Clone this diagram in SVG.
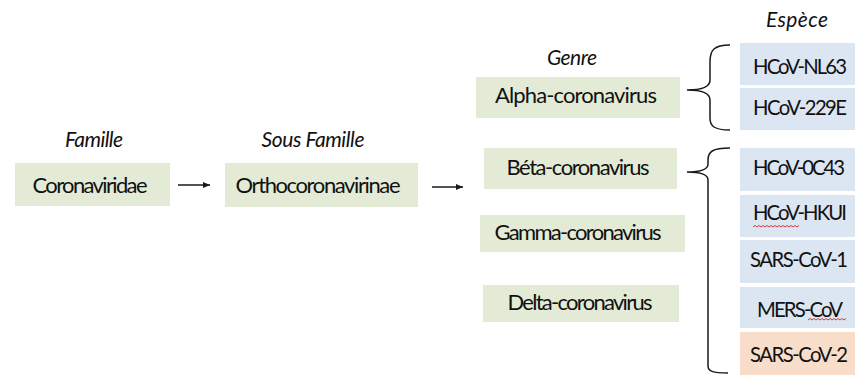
<svg xmlns="http://www.w3.org/2000/svg" width="857" height="376" viewBox="0 0 857 376">
<defs>
<style>
.g{fill:#e3ebd6}
.b{fill:#dce5f2}
.o{fill:#f8ddcb}
.t{font-family:Lato,"Liberation Sans",Arial,sans-serif;font-size:22px;fill:#111111;text-anchor:middle}
.s{font-family:Lato,"Liberation Sans",Arial,sans-serif;font-size:20.3px;fill:#111111;text-anchor:middle}
.h{font-family:Lato,"Liberation Sans",Arial,sans-serif;font-size:21px;font-style:italic;fill:#111111;text-anchor:middle}
.c{fill:none;stroke:#1a1a1a;stroke-width:1.5}
.q{fill:none;stroke:#d23a3a;stroke-width:1}
</style>
<marker id="ah" markerWidth="8" markerHeight="8" refX="7" refY="4" orient="auto" markerUnits="userSpaceOnUse">
<path d="M0,1 L7,4 L0,7 z" fill="#1a1a1a"/>
</marker>
</defs>
<rect width="857" height="376" fill="#ffffff"/>

<g id="labels">
<text class="h" x="94" y="147" textLength="58">Famille</text>
<text class="h" x="313" y="147" textLength="103">Sous Famille</text>
<text class="h" x="572" y="65" textLength="50">Genre</text>
<text class="h" x="797" y="27" textLength="62">Espèce</text>
</g>

<g id="coronaviridae"><rect class="g" x="15" y="163" width="155" height="43"/><text class="t" x="90" y="193" textLength="115">Coronaviridae</text></g>
<g id="orthocoronavirinae"><rect class="g" x="225" y="163" width="193" height="44"/><text class="t" x="318" y="193" textLength="165">Orthocoronavirinae</text></g>

<g id="alpha"><rect class="g" x="476" y="77" width="204" height="41"/><text class="t" x="576" y="103" textLength="162">Alpha-coronavirus</text></g>
<g id="beta"><rect class="g" x="484" y="148" width="193" height="41"/><text class="t" x="578" y="175" textLength="143">Béta-coronavirus</text></g>
<g id="gamma"><rect class="g" x="480" y="215" width="205" height="37"/><text class="t" x="578" y="240" textLength="167">Gamma-coronavirus</text></g>
<g id="delta"><rect class="g" x="483" y="285" width="196" height="37"/><text class="t" x="580" y="310" textLength="145">Delta-coronavirus</text></g>

<g id="nl63"><rect class="b" x="740" y="43" width="115" height="42"/><text class="s" x="800" y="74" textLength="94">HCoV-NL63</text></g>
<g id="e229"><rect class="b" x="740" y="88" width="115" height="42"/><text class="s" x="800" y="115" textLength="94">HCoV-229E</text></g>
<g id="oc43"><rect class="b" x="740" y="148" width="115" height="43"/><text class="s" x="799" y="175" textLength="92">HCoV-0C43</text></g>
<g id="hkui"><rect class="b" x="740" y="195" width="115" height="42"/><text class="s" x="800" y="220" textLength="94">HCoV-HKUI</text>
<path class="q" d="M753,227 l2,-1.5 l2,1.5 l2,-1.5 l2,1.5 l2,-1.5 l2,1.5 l2,-1.5 l2,1.5 l2,-1.5 l2,1.5 l2,-1.5 l2,1.5 l2,-1.5 l2,1.5 l2,-1.5 l2,1.5 l2,-1.5 l2,1.5 l2,-1.5 l2,1.5 l2,-1.5 l2,1.5 l2,-1.5"/></g>
<g id="sars1"><rect class="b" x="740" y="240" width="115" height="43"/><text class="s" x="799" y="267" textLength="98">SARS-CoV-1</text></g>
<g id="mers"><rect class="b" x="740" y="287" width="115" height="41"/><text class="s" x="800" y="317" textLength="86">MERS-CoV</text>
<path class="q" d="M808,320 l2,-1.5 l2,1.5 l2,-1.5 l2,1.5 l2,-1.5 l2,1.5 l2,-1.5 l2,1.5 l2,-1.5 l2,1.5 l2,-1.5 l2,1.5 l2,-1.5 l2,1.5 l2,-1.5 l2,1.5 l2,-1.5 l2,1.5 l2,-1.5"/></g>
<g id="sars2"><rect class="o" x="740" y="332" width="115" height="43"/><text class="s" x="799" y="362" textLength="98">SARS-CoV-2</text></g>

<g id="connectors">
<line class="c" x1="178" y1="185" x2="210" y2="185" marker-end="url(#ah)"/>
<line class="c" x1="432" y1="187" x2="463" y2="187" marker-end="url(#ah)"/>
<path class="c" d="M730,45 C714,45 710,50 710,62 L710,80 C710,88 700,90 687,90 C700,90 710,92 710,100 L710,118 C710,126 714,130 730,130"/>
<path class="c" d="M730,148 C712,148 708,152 708,160 L708,164 C708,170 698,172 687,172 C698,172 708,174 708,180 L708,366 C708,371 712,373 728,373"/>
</g>
</svg>
